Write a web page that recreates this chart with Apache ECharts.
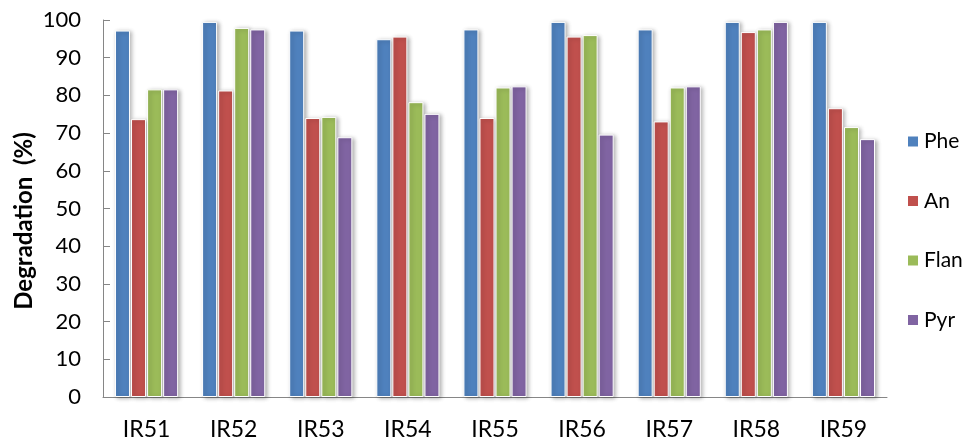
<!DOCTYPE html>
<html>
<head>
<meta charset="utf-8">
<script src="https://cdn.jsdelivr.net/npm/echarts@6/dist/echarts.min.js"></script>
<style>
html,body{margin:0;padding:0;background:#fff;}
#chart{width:966px;height:441px;}
</style>
</head>
<body>
<div id="chart"></div>
<script>
var categories = ['IR51','IR52','IR53','IR54','IR55','IR56','IR57','IR58','IR59'];
var seriesNames = ['Phe','An','Flan','Pyr'];
var phe  = [97.2, 99.5, 97.2, 94.9, 97.5, 99.5, 97.5, 99.5, 99.5];
var an   = [73.7, 81.3, 74.0, 95.6, 74.0, 95.6, 73.1, 96.8, 76.6];
var flan = [81.6, 97.9, 74.3, 78.2, 82.1, 96.0, 82.1, 97.5, 71.6];
var pyr  = [81.6, 97.5, 68.9, 75.1, 82.4, 69.6, 82.4, 99.5, 68.4];
var colors = ['#4F81BD','#C0504D','#9BBB59','#8064A2'];
var yTitle = 'Degradation  (%)';

var font = 'Lato, "Open Sans", sans-serif';
var dataSets = [phe, an, flan, pyr];
var chart = echarts.init(document.getElementById('chart'));
chart.setOption({
  animation: false,
  backgroundColor: '#fff',
  color: colors,
  grid: {left: 103, right: 79, top: 20, bottom: 43.5},
  graphic: [{
    type: 'text', x: 24, y: 221, rotation: Math.PI / 2,
    style: {text: yTitle, font: 'bold 24px ' + font, fill: '#000', align: 'center', verticalAlign: 'middle'}
  }],
  legend: {
    orient: 'vertical', left: 906, top: 131, padding: 0,
    itemWidth: 12, itemHeight: 12, itemGap: 38.5, icon: 'rect',
    textStyle: {fontFamily: font, fontSize: 21, color: '#000', lineHeight: 21},
    data: seriesNames
  },
  xAxis: {
    type: 'category', data: categories,
    axisLine: {lineStyle: {color: '#868686', width: 1}},
    axisTick: {inside: true, length: 7, lineStyle: {color: '#868686'}},
    axisLabel: {fontFamily: font, fontSize: 23, color: '#000', margin: 21}
  },
  yAxis: {
    type: 'value', min: 0, max: 100, interval: 10,
    axisLine: {show: true, lineStyle: {color: '#868686', width: 1}},
    axisTick: {show: true, inside: true, length: 7, lineStyle: {color: '#868686'}},
    splitLine: {show: false},
    axisLabel: {fontFamily: font, fontSize: 22, color: '#000', margin: 22}
  },
  series: seriesNames.map(function(n, i){
    return {
      name: n, type: 'bar', data: dataSets[i],
      barWidth: 15, barGap: '7%',
      itemStyle: {
        color: colors[i], borderColor: '#fff', borderWidth: 1,
        shadowColor: 'rgba(0,0,0,0.3)', shadowBlur: 4, shadowOffsetX: 2, shadowOffsetY: 1
      }
    };
  })
});
</script>
</body>
</html>
